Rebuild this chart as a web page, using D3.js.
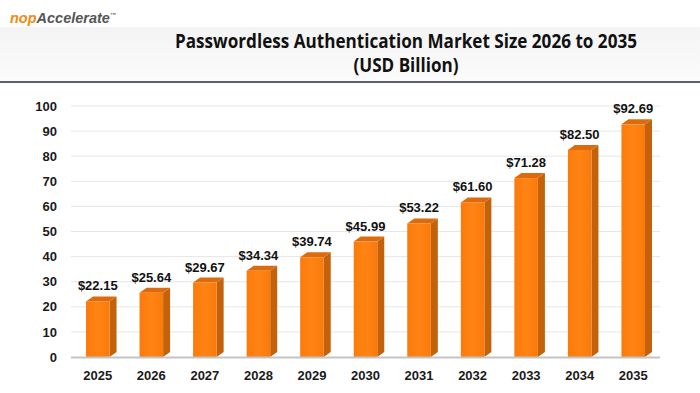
<!DOCTYPE html>
<html><head><meta charset="utf-8">
<script src="https://cdn.jsdelivr.net/npm/d3@7"></script>
<style>html,body{margin:0;padding:0;background:#fff;}svg{display:block;}</style>
</head><body>
<svg id="c" width="700" height="393"></svg>
<script>
const years = ["2025","2026","2027","2028","2029","2030","2031","2032","2033","2034","2035"];
const values = [22.15,25.64,29.67,34.34,39.74,45.99,53.22,61.60,71.28,82.50,92.69];
const yTicks = [0,10,20,30,40,50,60,70,80,90,100];
const titleLines = ["Passwordless Authentication Market Size 2026 to 2035","(USD Billion)"];
const titleWidths = [462,105];

const svg = d3.select("#c");
const defs = svg.append("defs");
const hg = defs.append("linearGradient").attr("id","hdr").attr("x1",0).attr("y1",0).attr("x2",0).attr("y2",1);
hg.append("stop").attr("offset","0%").attr("stop-color","#f4f4f4");
hg.append("stop").attr("offset","100%").attr("stop-color","#fbfbfb");
const fg = defs.append("linearGradient").attr("id","front").attr("x1",0).attr("y1",0).attr("x2",1).attr("y2",0);
fg.append("stop").attr("offset","0%").attr("stop-color","#fb7a0c");
fg.append("stop").attr("offset","50%").attr("stop-color","#ff8414");
fg.append("stop").attr("offset","100%").attr("stop-color","#f97a0c");

// header band
svg.append("rect").attr("x",0).attr("y",27).attr("width",700).attr("height",55).attr("fill","url(#hdr)");
svg.append("line").attr("x1",0).attr("x2",700).attr("y1",82).attr("y2",82).attr("stroke","#262a4a").attr("stroke-width",1.5);

// logo
const logo = svg.append("text").attr("x",10).attr("y",23).attr("font-family","Liberation Sans, Arial, sans-serif")
  .attr("font-weight","bold").attr("font-style","italic").attr("font-size",14.5);
logo.append("tspan").attr("fill","#ef8a12").text("nop");
logo.append("tspan").attr("fill","#555").text("Accelerate");
logo.append("tspan").attr("fill","#555").attr("font-size",6).attr("dy",-6).text("™");

// title
svg.selectAll("text.title").data(titleLines).join("text").attr("class","title")
  .attr("x",406).attr("y",(d,i)=>48+i*24).attr("text-anchor","middle")
  .attr("font-family","Open Sans, sans-serif").attr("font-weight",700).attr("font-size",19)
  .attr("textLength",(d,i)=>titleWidths[i]).attr("lengthAdjust","spacingAndGlyphs")
  .attr("fill","#111").text(d=>d);

const pLeft=71, pRight=660, pTop=106, pBottom=357;
const x = d3.scaleBand().domain(years).range([pLeft,pRight]).paddingInner(0.56).paddingOuter(0.28);
const y = d3.scaleLinear().domain([0,100]).range([pBottom,pTop]);

// gridlines
svg.append("g").selectAll("line").data(yTicks.filter(t=>t>0)).join("line")
  .attr("x1",pLeft).attr("x2",pRight).attr("y1",d=>y(d)).attr("y2",d=>y(d))
  .attr("stroke","#e6e6e6").attr("stroke-width",1);

// y axis labels
const yAxis = d3.axisLeft(y).tickValues(yTicks).tickSize(0).tickPadding(0);
const ya = svg.append("g").attr("transform",`translate(57,0)`).call(yAxis);
ya.select(".domain").remove();
ya.selectAll("text").attr("font-family","Liberation Sans, Arial, sans-serif").attr("font-weight","bold")
  .attr("font-size",13).attr("fill","#1a1a1a");

// bars
const dx=7, dy=5;
const bw = x.bandwidth();
const g = svg.append("g");
const bars = g.selectAll("g.bar").data(years.map((yr,i)=>({yr,v:values[i]}))).join("g").attr("class","bar");
bars.append("path").attr("fill","#c4620c").attr("d",d=>{
  const x1=x(d.yr)+bw, yt=y(d.v);
  return `M${x1},${yt}L${x1+dx},${yt-dy}L${x1+dx},${pBottom-dy}L${x1},${pBottom}Z`;
});
bars.append("path").attr("fill","#dc6b0e").attr("d",d=>{
  const x0=x(d.yr), x1=x0+bw, yt=y(d.v);
  return `M${x0},${yt}L${x0+dx},${yt-dy}L${x1+dx},${yt-dy}L${x1},${yt}Z`;
});
bars.append("rect").attr("x",d=>x(d.yr)).attr("y",d=>y(d.v)).attr("width",bw)
  .attr("height",d=>pBottom-y(d.v)).attr("fill","url(#front)");

// baseline
svg.append("line").attr("x1",pLeft).attr("x2",pRight).attr("y1",pBottom+0.5).attr("y2",pBottom+0.5)
  .attr("stroke","#c4c4c4").attr("stroke-width",2);

// value labels
bars.append("text").attr("x",d=>x(d.yr)+bw/2).attr("y",d=>y(d.v)-11).attr("text-anchor","middle")
  .attr("font-family","Liberation Sans, Arial, sans-serif").attr("font-weight","bold").attr("font-size",13)
  .attr("fill","#111").text(d=>"$"+d.v.toFixed(2));

// x axis labels
const xAxis = d3.axisBottom(x).tickSize(0).tickPadding(0);
const xa = svg.append("g").attr("transform",`translate(0,${pBottom+14})`).call(xAxis);
xa.select(".domain").remove();
xa.selectAll("text").attr("font-family","Liberation Sans, Arial, sans-serif").attr("font-weight","bold")
  .attr("font-size",13).attr("fill","#1a1a1a");
</script>
</body></html>
